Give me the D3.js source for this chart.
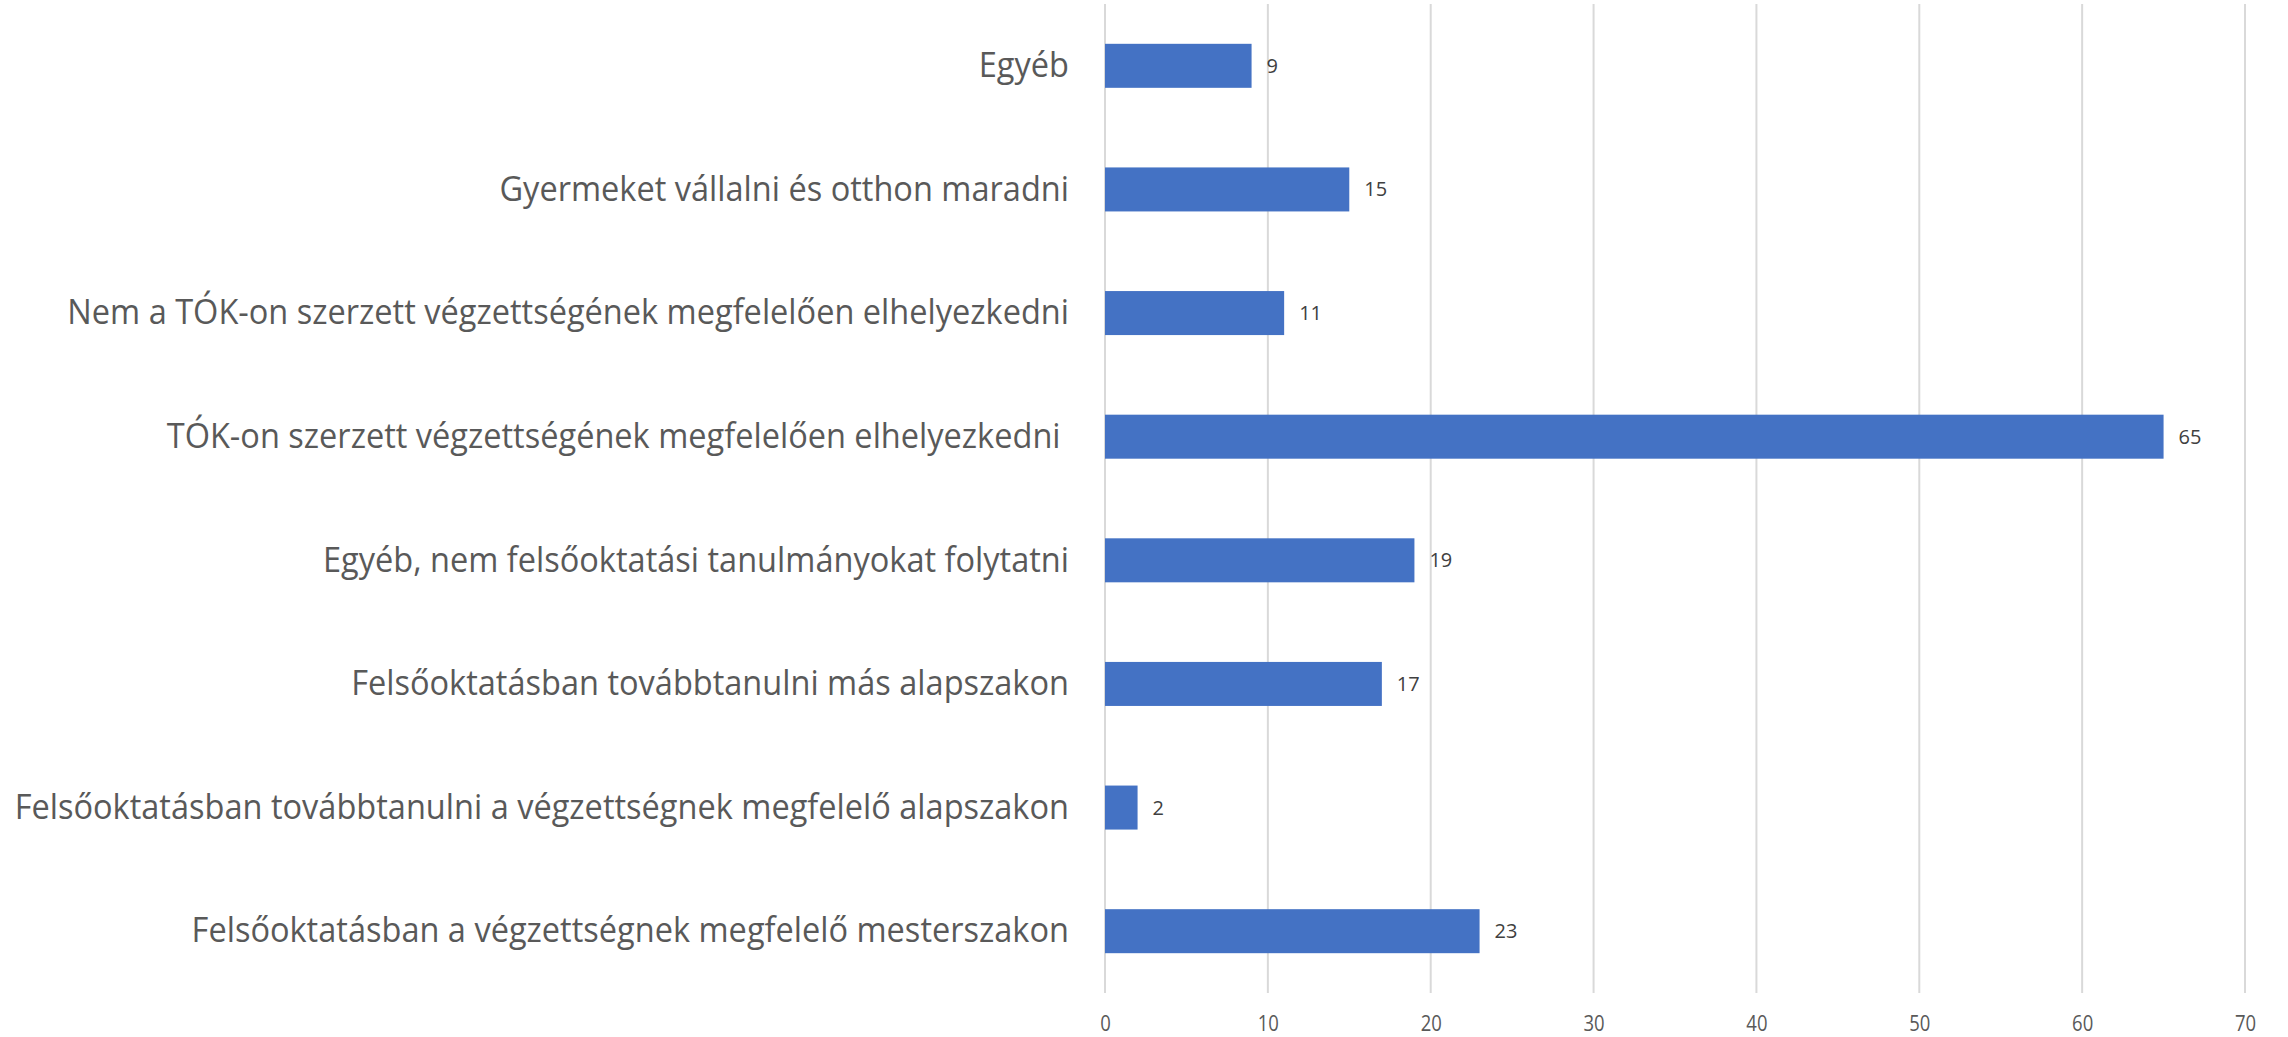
<!DOCTYPE html>
<html>
<head>
<meta charset="utf-8">
<script src="https://cdn.jsdelivr.net/npm/d3@7"></script>
<style>
  body { margin: 0; background: #fff; }
  text { white-space: pre; }
</style>
</head>
<body>
<script>
// categories, top to bottom
var categories = [
  "Egyéb",
  "Gyermeket vállalni és otthon maradni",
  "Nem a TÓK-on szerzett végzettségének megfelelően elhelyezkedni",
  "TÓK-on szerzett végzettségének megfelelően elhelyezkedni ",
  "Egyéb, nem felsőoktatási tanulmányokat folytatni",
  "Felsőoktatásban továbbtanulni más alapszakon",
  "Felsőoktatásban továbbtanulni a végzettségnek megfelelő alapszakon",
  "Felsőoktatásban a végzettségnek megfelelő mesterszakon"
];
var values = [9, 15, 11, 65, 19, 17, 2, 23];
var xTicks = [0, 10, 20, 30, 40, 50, 60, 70];

var margin = {top: 4, right: 43, bottom: 44, left: 1105},
    width = 2288 - margin.left - margin.right,
    height = 1037 - margin.top - margin.bottom;

var svg = d3.select("body").append("svg")
    .attr("width", 2288)
    .attr("height", 1037)
  .append("g")
    .attr("transform", "translate(" + margin.left + "," + margin.top + ")");

var x = d3.scaleLinear().domain([0, 70]).range([0, width]);
var y = d3.scaleBand().domain(categories).range([0, height]).paddingInner(0.644).paddingOuter(0.322);

// gridlines
svg.append("g")
    .selectAll("line")
    .data(xTicks)
    .enter().append("line")
    .attr("x1", function(d) { return x(d); })
    .attr("x2", function(d) { return x(d); })
    .attr("y1", 0)
    .attr("y2", height)
    .attr("stroke", "#d9d9d9")
    .attr("stroke-width", 2);

// x axis labels
var xAxis = svg.append("g")
    .attr("transform", "translate(0," + height + ")")
    .call(d3.axisBottom(x).tickValues(xTicks).tickSize(0).tickPadding(23));
xAxis.select(".domain").remove();
xAxis.selectAll("text")
    .attr("font-family", "Open Sans, sans-serif")
    .attr("font-size", 21)
    .attr("fill", "#595959")
    .attr("transform", "scale(0.88,1)");

// y axis labels (Excel font is narrower, so squeeze a bit)
var yAxis = svg.append("g")
    .call(d3.axisLeft(y).tickSize(0));
yAxis.select(".domain").remove();
yAxis.selectAll("text")
    .attr("x", 0)
    .attr("transform", "translate(-36,0) scale(0.93,1)")
    .attr("font-family", "Open Sans, sans-serif")
    .attr("font-size", 35)
    .attr("fill", "#595959");

// bars
svg.selectAll(".bar")
    .data(values)
    .enter().append("rect")
    .attr("class", "bar")
    .attr("x", x(0))
    .attr("y", function(d, i) { return y(categories[i]); })
    .attr("width", function(d) { return x(d) - x(0); })
    .attr("height", y.bandwidth())
    .attr("fill", "#4472c4");

// value labels
svg.selectAll(".val")
    .data(values)
    .enter().append("text")
    .attr("class", "val")
    .attr("x", function(d) { return x(d) + 15; })
    .attr("y", function(d, i) { return y(categories[i]) + y.bandwidth() / 2; })
    .attr("dy", "0.35em")
    .attr("font-family", "Open Sans, sans-serif")
    .attr("font-size", 20)
    .attr("fill", "#404040")
    .text(function(d) { return d; });
</script>
</body>
</html>
